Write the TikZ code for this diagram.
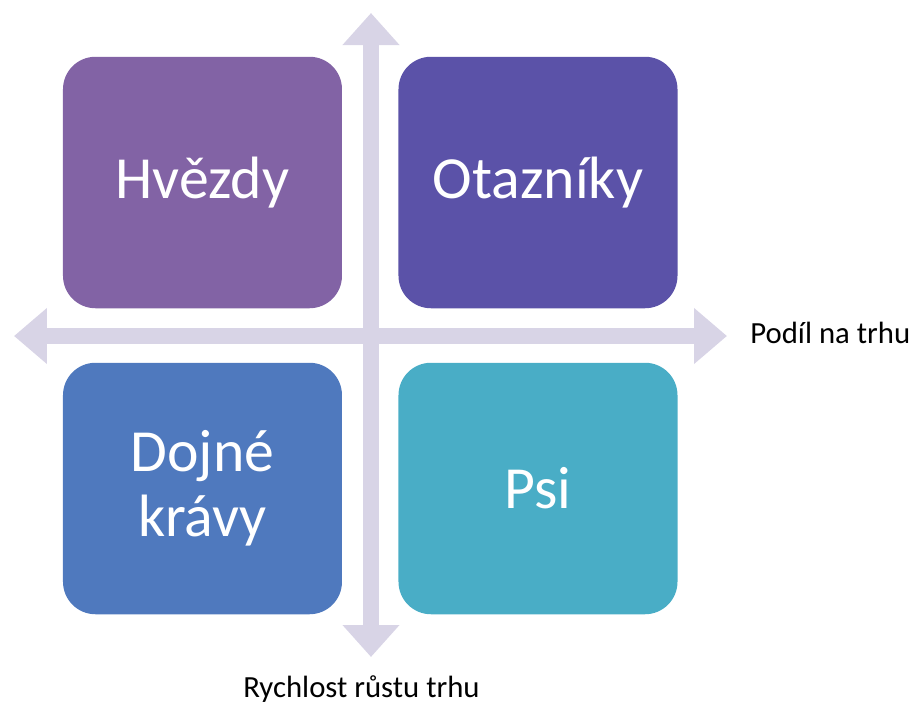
\documentclass[tikz,border=0pt]{standalone}
\usepackage{fontspec}
\setmainfont{Carlito}
\usepackage{tikz}
\usetikzlibrary{arrows.meta,positioning}
\definecolor{hvez}{RGB}{130,99,165}
\definecolor{otaz}{RGB}{91,82,168}
\definecolor{dojn}{RGB}{79,121,190}
\definecolor{psic}{RGB}{73,173,198}
\definecolor{osa}{RGB}{216,212,230}

\begin{document}
\begin{tikzpicture}[quad/.style={rounded corners=0.65cm,minimum width=5.58cm,minimum height=5.03cm,text=white,font=\fontsize{34}{37}\selectfont,align=center,inner sep=0pt}]
  \useasboundingbox (-7.42,-7.44) rectangle (10.9,6.72);
  % axes
  \coordinate (w) at (-7.14,0); \coordinate (e) at (7.12,0);
  \coordinate (n) at (0,6.46); \coordinate (s) at (0,-6.42);
  \draw[osa,line width=0.32cm,{Triangle[width=1.08cm,length=0.66cm]}-{Triangle[width=1.08cm,length=0.66cm]}] (w) -- (e);
  \draw[osa,line width=0.32cm,{Triangle[width=1.1cm,length=0.64cm]}-{Triangle[width=1.1cm,length=0.64cm]}] (n) -- (s);
  % quadrants
  \node[quad,fill=hvez] (hvezdy) at (-3.37,3.07) {Hvězdy};
  \node[quad,fill=otaz] (otazniky) at (3.34,3.07) {Otazníky};
  \node[quad,fill=dojn] (dojne) at (-3.37,-3.05) {Dojné\\krávy};
  \node[quad,fill=psic] (psi) at (3.34,-3.05) {Psi};
  \node[font=\fontsize{17.5}{20}\selectfont,anchor=west,inner sep=0pt] (podil) at (7.58,0.06) {Podíl na trhu};
  \node[font=\fontsize{17.5}{20}\selectfont,anchor=base,inner sep=0pt] (rust) at (-0.19,-7.22) {Rychlost růstu trhu};
\end{tikzpicture}
\end{document}
